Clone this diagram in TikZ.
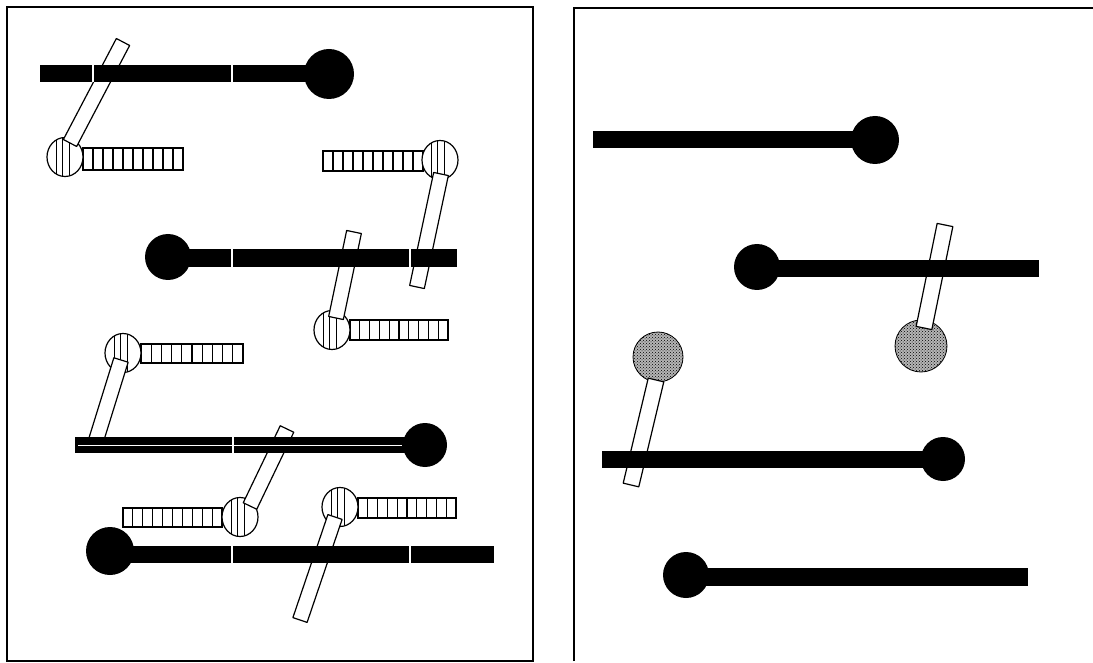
\documentclass[tikz,border=0pt]{standalone}
\usetikzlibrary{calc,patterns}
\newcommand\mystick[3]{%
  \draw[stickst] ($(#1)!#3!90:(#2)$) -- ($(#2)!#3!-90:(#1)$) -- ($(#2)!#3!90:(#1)$) -- ($(#1)!#3!-90:(#2)$) -- cycle;}
\newcommand\myladder[4]{%
  \draw[ladderst] (#1,#3) rectangle (#2,#4);
  \foreach \i in {1,...,9} \draw[ladderst] ({#1+\i*(#2-#1)/10},#3) -- ({#1+\i*(#2-#1)/10},#4);}
\newcommand\hcirc[3]{%
  \fill[white] (#1,#2) ellipse (18pt and 19.5pt);
  \begin{scope}
    \clip (#1,#2) ellipse (18pt and 19.5pt);
    \foreach \d in {-9,-3,4} \draw[hatchst] ({#1+\d},#2-21) -- ({#1+\d},#2+21);
  \end{scope}
  \draw[circst] (#1,#2) ellipse (18pt and 19.5pt);
  \coordinate (#3) at (#1,#2);}
\newcommand\mybar[4]{\fill[black] (#1,#3) rectangle (#2,#4);}
\begin{document}
\begin{tikzpicture}[x=1pt,y=-1pt,
  framest/.style={line width=1.5pt,black},
  stickst/.style={draw=black,fill=white,line width=1.2pt,line join=round},
  ladderst/.style={draw=black,line width=1.1pt},
  hatchst/.style={black,line width=1pt},
  circst/.style={draw=black,line width=1.2pt},
  stipple/.style={fill=gray!58},
  gapst/.style={white,line width=1.1pt}]
\useasboundingbox (0,0) rectangle (1093,663);
\fill[white] (0,0) rectangle (1093,663);
% frames
\draw[framest] (7,7) rectangle (533,661);
\draw[framest] (574,661) -- (574,8) -- (1093,8);

% ---------- left panel: hatched circles and ladders ----------
\myladder{83}{183}{148}{170}
\hcirc{65}{157}{c1}
\myladder{323}{423}{151}{171}
\hcirc{440}{160}{c2}
\myladder{350}{448}{320}{340}
\hcirc{332}{330}{c3}
\myladder{141}{243}{344}{363}
\hcirc{123}{353}{c4}
\myladder{123}{222}{508}{527}
\hcirc{240}{517}{c5}
\myladder{358}{456}{498}{518}
\hcirc{340}{507}{c6}

% sticks
\coordinate (s1a) at (70,143);  \coordinate (s1b) at (123,42);
\coordinate (s2a) at (441,174); \coordinate (s2b) at (417,287);
\coordinate (s3a) at (336,318); \coordinate (s3b) at (354,232);
\coordinate (s4a) at (121,360); \coordinate (s4b) at (94,447);
\coordinate (s5a) at (250,506); \coordinate (s5b) at (287,429);
\coordinate (s6a) at (335,517); \coordinate (s6b) at (300,620);
\mystick{s1a}{s1b}{7.5pt}
\mystick{s2a}{s2b}{7.5pt}
\mystick{s3a}{s3b}{7.5pt}
\mystick{s4a}{s4b}{7.5pt}
\mystick{s5a}{s5b}{7.5pt}
\mystick{s6a}{s6b}{7.5pt}

% bars and balls
\mybar{40}{315}{65}{82}
\fill (329,74) circle (25pt) coordinate (k1);
\draw[gapst] (93,65) -- (93,82) (232,65) -- (232,82);
\mybar{168}{457}{249}{267}
\fill (168,257) circle (23pt) coordinate (k2);
\draw[gapst] (232,249) -- (232,267) (410,249) -- (410,267);
\mybar{75}{425}{437}{453}
\fill (425,445) circle (22pt) coordinate (k3);
\draw[gapst] (233,437) -- (233,453);
\draw[white,line width=0.8pt] (78,445) -- (402,445);
\mybar{110}{494}{546}{563}
\fill (110,551) circle (24pt) coordinate (k4);
\draw[gapst] (232,546) -- (232,563) (410,546) -- (410,563);

% ---------- right panel ----------
\fill[stipple] (921,346) circle (26pt) coordinate (r2);
\fill[stipple] (658,357) circle (25pt) coordinate (r3);
\fill[pattern=crosshatch dots,pattern color=black] (921,346) circle (26pt) (658,357) circle (25pt);
\draw[black,line width=0.8pt] (921,346) circle (26pt) (658,357) circle (25pt);
\coordinate (t2a) at (924,328); \coordinate (t2b) at (945,225);
\coordinate (t3a) at (656,380); \coordinate (t3b) at (631,485);
\mystick{t2a}{t2b}{8pt}
\mystick{t3a}{t3b}{8pt}

\mybar{593}{875}{131}{148}
\fill (875,140) circle (24pt) coordinate (q1);
\mybar{757}{1039}{260}{277}
\fill (757,267) circle (23pt) coordinate (q2);
\mybar{602}{943}{451}{468}
\fill (943,459) circle (22pt) coordinate (q3);
\mybar{686}{1028}{568}{586}
\fill (686,575) circle (23pt) coordinate (q4);
\end{tikzpicture}
\end{document}
